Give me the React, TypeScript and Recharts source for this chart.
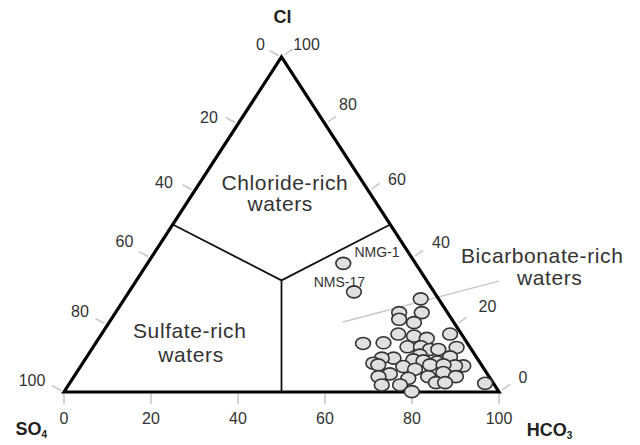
import React from 'react';
import { ScatterChart, Scatter, XAxis, YAxis, ReferenceLine } from 'recharts';

// ---- data ----
const bottomTicks = [0, 20, 40, 60, 80, 100]; // HCO3 along base
const leftTicks = [0, 20, 40, 60, 80, 100]; // SO4 along left edge (apex -> SO4 corner)
const rightTicks = [100, 80, 60, 40, 20, 0]; // Cl along right edge (apex -> HCO3 corner)

const labeledNames = ['NMG-1', 'NMS-17'];
const labeledCl = [38.4, 29.9];
const labeledHCO3 = [45.0, 51.7];

const clusterCl = [27.8, 23.7, 23.7, 21.7, 20.7, 17.3, 16.7, 16.0, 17.3, 14.5, 14.7, 13.5, 13.5, 12.7, 12.7, 13.3, 10.5, 9.0, 11.0, 10.1, 10.1, 9.6, 9.3, 8.6, 8.1, 7.6, 6.8, 7.8, 7.8, 8.1, 8.1, 5.4, 4.6, 4.1, 4.6, 5.8, 4.6, 2.1, 2.1, 2.8, 2.8, 2.6, 0.1];
const clusterHCO3 = [68.1, 65.2, 70.4, 66.2, 70.1, 68.2, 72.1, 75.4, 80.1, 61.5, 66.1, 72.2, 75.3, 77.8, 79.7, 83.6, 83.5, 81.3, 76.3, 70.7, 68.0, 75.5, 78.0, 66.8, 68.2, 74.2, 77.3, 87.9, 86.0, 80.1, 83.2, 72.2, 70.0, 77.1, 81.4, 84.3, 87.8, 72.0, 76.2, 84.1, 86.2, 95.5, 79.9];

const regionTexts = ['Chloride-rich', 'waters', 'Sulfate-rich', 'waters', 'Bicarbonate-rich', 'waters'];
const vertexNames = ['Cl', 'SO', 'HCO'];
const vertexSubs = ['', '4', '3'];

// ---- ternary -> plot coordinates ----
const toX = (cl: number, hco3: number) => hco3 + cl / 2;
const toY = (cl: number) => cl;

// ---- layout (positions / styles) ----
const leftTickOffsets = [[-21, -13], [-29, -6.5], [-30.5, -9], [-26.5, -17], [-27.5, -14], [-32, -12]];
const rightTickOffsets = [[25, -13], [23, -20], [28.5, -12], [29, -15.5], [32, -19], [24, -14.5]];
const labeledOffsets = [[33.7, -6.3], [-14.5, -4.7]];
// region label anchors (plot units) + pixel dx
const regionAnchors = [
  [50.8, 60.3, 0], [49.7, 54.0, 0],
  [28.9, 16.1, 0], [29.2, 9.0, 0],
  [100, 38.6, 43.2], [100, 31.9, 50.7],
];
const vertexAnchors = [[50, 100], [0, 0], [100, 0]];
const vertexOffsets = [[1, -34, 'middle'], [-48.4, 43, 'start'], [27.7, 44, 'start']];

const TEXT = '#333';
const TICK_GRAY = '#c4c4c4';

const triangle = [
  { x: 0, y: 0 }, { x: 100, y: 0 }, { x: 50, y: 100 }, { x: 0, y: 0 }, { x: 100, y: 0 },
];

const leftTickData = leftTicks.map((v, i) => ({ x: (100 - v) / 2, y: 100 - v, label: String(v), i }));
const rightTickData = rightTicks.map((v, i) => ({ x: 100 - v / 2, y: v, label: String(v), i }));
const clusterData = clusterCl.map((cl, i) => ({ x: toX(cl, clusterHCO3[i]), y: toY(cl) }));
const labeledData = labeledNames.map((n, i) => ({ x: toX(labeledCl[i], labeledHCO3[i]), y: toY(labeledCl[i]), name: n, i }));
const regionData = regionTexts.map((t, i) => ({ x: regionAnchors[i][0], y: regionAnchors[i][1], text: t, i }));
const vertexData = vertexNames.map((n, i) => ({ x: vertexAnchors[i][0], y: vertexAnchors[i][1], name: n, sub: vertexSubs[i], i }));

const Empty = () => <g />;

const LeftTickShape = (p: any) => {
  const { cx, cy, payload } = p;
  const [dx, dy] = leftTickOffsets[payload.i];
  return (
    <g>
      <line x1={cx - 3} y1={cy - 1.5} x2={cx - 12} y2={cy - 6.3} stroke={TICK_GRAY} strokeWidth={1.5} />
      <text x={cx + dx} y={cy + dy + 5.8} textAnchor="middle" fontSize={16} fill={TEXT}>{payload.label}</text>
    </g>
  );
};

const RightTickShape = (p: any) => {
  const { cx, cy, payload } = p;
  const [dx, dy] = rightTickOffsets[payload.i];
  return (
    <g>
      <line x1={cx + 3} y1={cy - 2} x2={cx + 11} y2={cy - 7.6} stroke={TICK_GRAY} strokeWidth={1.5} />
      <text x={cx + dx} y={cy + dy + 5.8} textAnchor="middle" fontSize={16} fill={TEXT}>{payload.label}</text>
    </g>
  );
};

const Dot = (p: any) => (
  <ellipse cx={p.cx} cy={p.cy} rx={7.4} ry={6} fill="#e0e0e0" stroke="#333" strokeWidth={1.6} />
);

const LabeledDot = (p: any) => {
  const { cx, cy, payload } = p;
  const [dx, dy] = labeledOffsets[payload.i];
  return (
    <g>
      <ellipse cx={cx} cy={cy} rx={7.4} ry={6} fill="#e0e0e0" stroke="#333" strokeWidth={1.6} />
      <text x={cx + dx} y={cy + dy} textAnchor="middle" fontSize={14} fill={TEXT}>{payload.name}</text>
    </g>
  );
};

const RegionText = (p: any) => {
  const { cx, cy, payload } = p;
  const dx = regionAnchors[payload.i][2];
  return (
    <text x={cx + dx} y={cy} textAnchor="middle" fontSize={21} letterSpacing={0.6} fill={TEXT}>{payload.text}</text>
  );
};

const VertexText = (p: any) => {
  const { cx, cy, payload } = p;
  const [dx, dy, anchor] = vertexOffsets[payload.i] as [number, number, any];
  return (
    <text x={cx + dx} y={cy + dy} textAnchor={anchor} fontSize={18} fontWeight="bold" fill="#222">
      {payload.name}
      {payload.sub ? <tspan fontSize={10} dy={3}>{payload.sub}</tspan> : null}
    </text>
  );
};

export default function App() {
  return (
    <div style={{ position: 'absolute', left: 0, top: 0, width: 640, height: 445, background: '#fff', fontFamily: '"Liberation Sans", Arial, Helvetica, sans-serif' }}>
      <ScatterChart width={640} height={445} margin={{ top: 57, right: 141, bottom: 23, left: 64 }}>
        <XAxis
          type="number"
          dataKey="x"
          domain={[0, 100]}
          ticks={bottomTicks}
          axisLine={false}
          tickLine={{ stroke: TICK_GRAY, strokeWidth: 1.5 }}
          tickSize={12}
          tickMargin={9}
          height={30}
          tick={{ fill: TEXT, fontSize: 16 }}
          interval={0}
        />
        <YAxis type="number" dataKey="y" domain={[0, 100]} hide />
        <Scatter data={triangle} line={{ stroke: '#000', strokeWidth: 3.2 }} lineJointType="linear" shape={Empty} isAnimationActive={false} />
        <ReferenceLine segment={[{ x: 50, y: 100 / 3 }, { x: 50, y: 0 }]} stroke="#111" strokeWidth={1.8} ifOverflow="visible" />
        <ReferenceLine segment={[{ x: 50, y: 100 / 3 }, { x: 25, y: 50 }]} stroke="#111" strokeWidth={1.8} ifOverflow="visible" />
        <ReferenceLine segment={[{ x: 50, y: 100 / 3 }, { x: 75, y: 50 }]} stroke="#111" strokeWidth={1.8} ifOverflow="visible" />
        <ReferenceLine segment={[{ x: 64.1, y: 20.9 }, { x: 100, y: 33.1 }]} stroke="#c8c8c8" strokeWidth={1.5} ifOverflow="visible" />
        <Scatter data={leftTickData} shape={LeftTickShape} isAnimationActive={false} />
        <Scatter data={rightTickData} shape={RightTickShape} isAnimationActive={false} />
        <Scatter data={clusterData} shape={Dot} isAnimationActive={false} />
        <Scatter data={labeledData} shape={LabeledDot} isAnimationActive={false} />
        <Scatter data={regionData} shape={RegionText} isAnimationActive={false} />
        <Scatter data={vertexData} shape={VertexText} isAnimationActive={false} />
      </ScatterChart>
    </div>
  );
}
